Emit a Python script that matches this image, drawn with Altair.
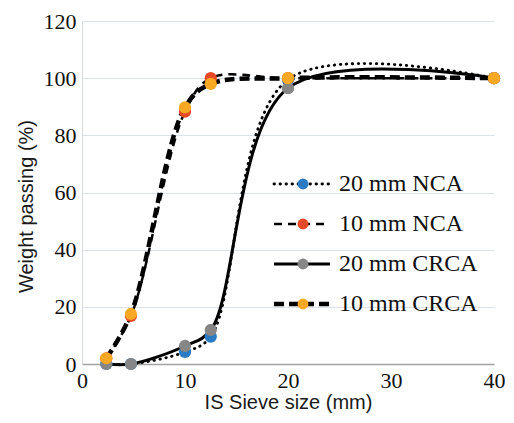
import altair as alt
import pandas as pd

# Sieve sizes (mm) and percent passing for each aggregate
sieve = [2.36, 4.75, 10, 12.5, 20, 40]
labels = ["20 mm NCA", "10 mm NCA", "20 mm CRCA", "10 mm CRCA"]
nca20 = [0, 0, 4.2, 9.6, 99.5, 100]
nca10 = [2, 16.8, 88.3, 100, 100, 100]
crca20 = [0, 0, 6.3, 11.9, 96.5, 100]
crca10 = [2, 17.5, 89.8, 98, 100, 100]
x_ticks = [0, 10, 20, 30, 40]
y_ticks = [0, 20, 40, 60, 80, 100, 120]

series_vals = [nca20, nca10, crca20, crca10]
colors = ["#2A7BC4", "#E84A27", "#868686", "#F8A823"]
dashes = [[0.5, 5.5], [8, 6], None, [10, 5]]
widths = [2.8, 2.5, 3, 4.5]
caps = ["round", "butt", "butt", "butt"]

rows = []
for lab, vals in zip(labels, series_vals):
    for s, v in zip(sieve, vals):
        rows.append({"series": lab, "size": s, "pass": v})
df = pd.DataFrame(rows)
leg = pd.DataFrame({"series": labels, "row": list(range(len(labels)))})

serif = "Liberation Serif"
sans = "Liberation Sans"

x_enc = alt.X(
    "size:Q",
    scale=alt.Scale(domain=[0, 40], nice=False),
    axis=alt.Axis(
        values=x_ticks, title="IS Sieve size (mm)", grid=False, ticks=False,
        domainColor="#a3a3a3", domainWidth=1.5, labelFlush=False,
        labelFont=serif, labelFontSize=22, labelColor="#111", labelPadding=6,
        titleFont=sans, titleFontSize=20, titleFontWeight="normal", titleColor="#1a1a1a",
        titleY=38, titleBaseline="middle",
    ),
)
y_enc = alt.Y(
    "pass:Q",
    scale=alt.Scale(domain=[0, 120], nice=False),
    axis=alt.Axis(
        values=y_ticks, title="Weight passing (%)", grid=True, gridColor="#dbe2ea", gridWidth=1,
        ticks=False, domainColor="#d5dbe1", domainWidth=1, labelFlush=False,
        labelFont=serif, labelFontSize=22, labelColor="#111", labelPadding=6,
        titleFont=sans, titleFontSize=20, titleFontWeight="normal", titleColor="#1a1a1a",
        titleX=-56, titleY=185, titleBaseline="middle",
    ),
)

line_layers = []
point_layers = []
leg_line_layers = []
leg_pt_layers = []
leg_y = alt.Y("row:Q", scale=alt.Scale(domain=[0, 3], range=[163, 283]), axis=None)

for i, lab in enumerate(labels):
    sub = df[df["series"] == lab]
    lkw = dict(color="black", strokeWidth=widths[i], interpolate="catmull-rom", strokeCap=caps[i])
    rkw = dict(color="black", strokeWidth=widths[i], strokeCap=caps[i])
    if dashes[i] is not None:
        lkw["strokeDash"] = dashes[i]
        rkw["strokeDash"] = dashes[i]
    line_layers.append(alt.Chart(sub).mark_line(**lkw).encode(x=x_enc, y=y_enc))
    point_layers.append(
        alt.Chart(sub).mark_circle(size=150, opacity=1, color=colors[i]).encode(x=x_enc, y=y_enc)
    )
    lsub = leg[leg["series"] == lab]
    leg_line_layers.append(
        alt.Chart(lsub).mark_rule(**rkw).encode(x=alt.value(192), x2=alt.value(248), y=leg_y)
    )
    leg_pt_layers.append(
        alt.Chart(lsub).mark_circle(size=120, opacity=1, color=colors[i]).encode(x=alt.value(221), y=leg_y)
    )

leg_text = alt.Chart(leg).mark_text(
    align="left", baseline="middle", font=serif, fontSize=24, color="#111"
).encode(x=alt.value(257), y=leg_y, text="series:N")

data_layer = alt.layer(*line_layers, *point_layers)
legend_layer = alt.layer(*leg_line_layers, *leg_pt_layers, leg_text)

chart = (
    alt.layer(data_layer, legend_layer)
    .resolve_scale(y="independent")
    .properties(
        width=412, height=343,
        autosize=alt.AutoSizeParams(type="none"),
        padding={"left": 74, "top": 13, "right": 12, "bottom": 51},
        background="white",
    )
    .configure_view(stroke=None)
)

chart.save("out.html", embed_options={"renderer": "svg", "actions": False})
